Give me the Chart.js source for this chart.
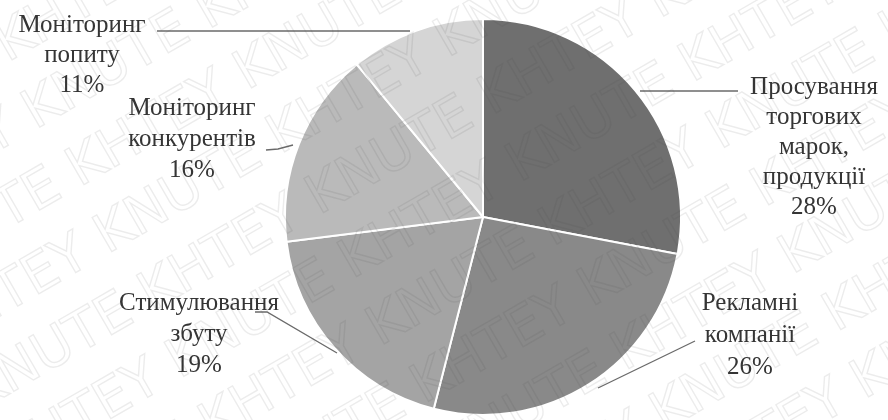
<!DOCTYPE html>
<html>
<head>
<meta charset="utf-8">
<script src="https://cdn.jsdelivr.net/npm/chart.js@4.4.1/dist/chart.umd.min.js"></script>
<style>
  html, body { margin: 0; padding: 0; background: #ffffff; }
  #wrap { width: 888px; height: 420px; position: relative; }
</style>
</head>
<body>
<div id="wrap"><canvas id="c" width="888" height="420"></canvas></div>
<script>
// ---- data ----
const categories = [
  ["Просування", "торгових", "марок,", "продукції"],
  ["Рекламні", "компанії"],
  ["Стимулювання", "збуту"],
  ["Моніторинг", "конкурентів"],
  ["Моніторинг", "попиту"]
];
const values = [28, 26, 19, 16, 11];
const sliceColors = ["#6f6f6f", "#898989", "#a4a4a4", "#bababa", "#d5d5d5"];
const watermarkText = "KHTEY KNUTE";

// ---- label layout (positions, not data) ----
const labelLayout = [
  { x: 814, y: 87, lh: 30, line: [[640, 91], [738, 91]] },
  { x: 750, y: 303, lh: 32, line: [[598, 388], [695, 341]] },
  { x: 199, y: 303, lh: 31, line: [[337, 353], [267, 312], [255, 312]] },
  { x: 192, y: 108, lh: 31, line: [[293, 145], [278, 149], [266, 150]] },
  { x: 82, y: 25, lh: 30, line: [[410, 31], [157, 31]] }
];

Chart.defaults.font.family = "'Liberation Serif', serif";
Chart.defaults.font.size = 25;
Chart.defaults.color = '#353535';

const labelPlugin = {
  id: 'outLabels',
  afterDatasetsDraw(chart) {
    const ctx = chart.ctx;
    ctx.save();
    ctx.strokeStyle = '#6a6a6a';
    ctx.lineWidth = 1.3;
    labelLayout.forEach(l => {
      ctx.beginPath();
      l.line.forEach((p, i) => i ? ctx.lineTo(p[0], p[1]) : ctx.moveTo(p[0], p[1]));
      ctx.stroke();
    });
    const f = Chart.helpers.toFont({ family: "'Liberation Serif', serif", size: 25 });
    ctx.fillStyle = '#353535';
    ctx.font = f.string;
    ctx.textAlign = 'center';
    ctx.textBaseline = 'middle';
    categories.forEach((lines, i) => {
      const l = labelLayout[i];
      const all = lines.concat([values[i] + '%']);
      all.forEach((t, k) => ctx.fillText(t, l.x, l.y + k * l.lh));
    });
    ctx.restore();
  },
  afterDraw(chart) {
    const ctx = chart.ctx;
    ctx.save();
    ctx.strokeStyle = 'rgba(70,70,70,0.10)';
    ctx.lineWidth = 1.4;
    ctx.font = "54px 'DejaVu Sans'";
    ctx.textBaseline = 'middle';
    ctx.translate(444, 210);
    ctx.rotate(-Math.PI / 6);
    const row = (watermarkText + ' ').repeat(6);
    for (let r = -6; r <= 6; r++) {
      const off = (r % 2) * 190 - 900;
      ctx.strokeText(row, off, r * 72);
    }
    ctx.restore();
  }
};

new Chart(document.getElementById('c'), {
  type: 'pie',
  data: {
    labels: categories.map(c => c.join(' ')),
    datasets: [{
      data: values,
      backgroundColor: sliceColors,
      borderColor: '#ffffff',
      borderWidth: 2
    }]
  },
  options: {
    responsive: false,
    animation: false,
    layout: { padding: { top: 18, bottom: 4, left: 200, right: 122 } },
    plugins: {
      legend: { display: false },
      tooltip: { enabled: false }
    }
  },
  plugins: [labelPlugin]
});
</script>
</body>
</html>
